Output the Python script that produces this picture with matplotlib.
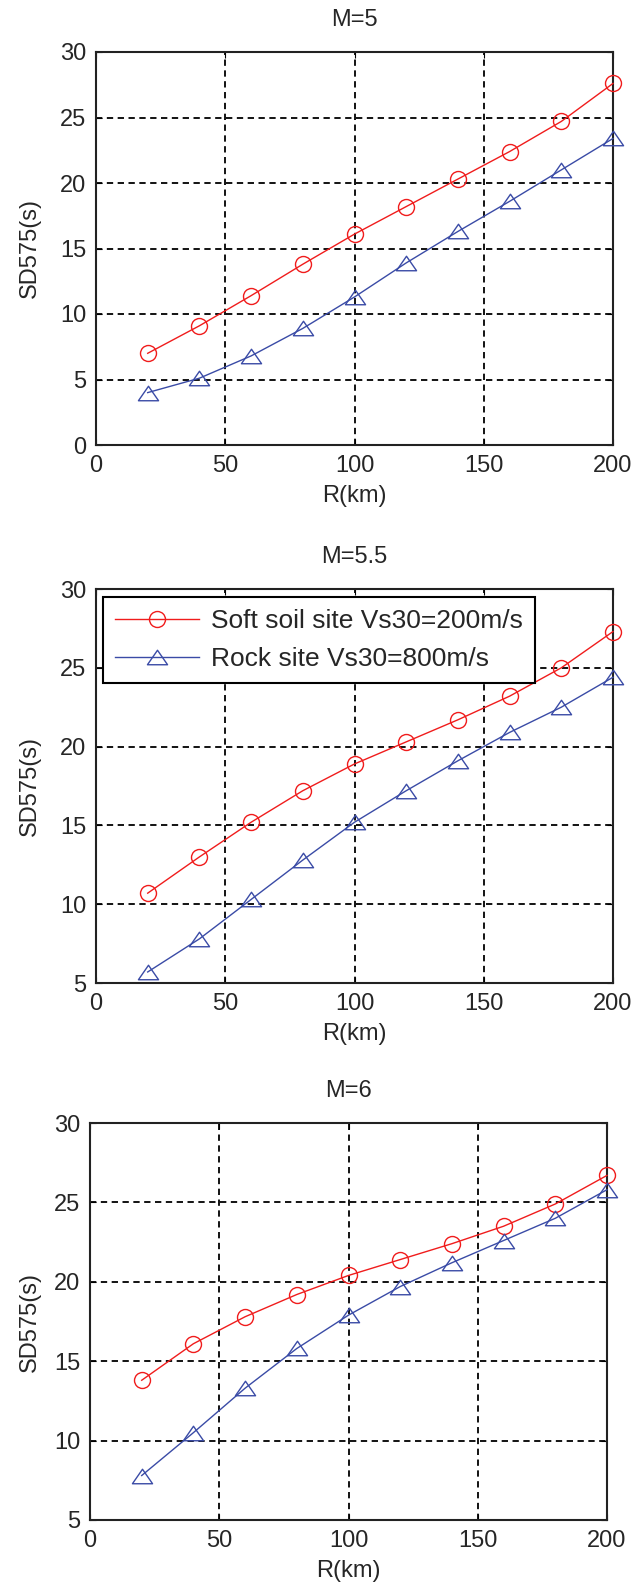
import matplotlib
matplotlib.use("Agg")
import matplotlib.pyplot as plt
from matplotlib.path import Path

# Distance (km) and significant duration SD575 (s) for each magnitude
distance_km = [20, 40, 60, 80, 100, 120, 140, 160, 180, 200]

soft_m5 = [7.0, 9.1, 11.4, 13.8, 16.1, 18.2, 20.3, 22.4, 24.7, 27.6]
rock_m5 = [4.0, 5.1, 6.8, 8.9, 11.3, 13.9, 16.3, 18.6, 21.0, 23.4]

soft_m55 = [10.7, 13.0, 15.2, 17.2, 18.9, 20.3, 21.7, 23.2, 25.0, 27.3]
rock_m55 = [5.7, 7.8, 10.3, 12.8, 15.2, 17.2, 19.1, 20.9, 22.5, 24.4]

soft_m6 = [13.8, 16.1, 17.8, 19.2, 20.4, 21.4, 22.4, 23.5, 24.9, 26.7]
rock_m6 = [7.8, 10.5, 13.3, 15.8, 17.9, 19.7, 21.2, 22.6, 24.0, 25.8]

titles = ["M=5", "M=5.5", "M=6"]
y_limits = [(0, 30), (5, 30), (5, 30)]
x_ticks = [0, 50, 100, 150, 200]
soft_label = "Soft soil site Vs30=200m/s"
rock_label = "Rock site Vs30=800m/s"

plt.rcParams["font.family"] = ["Liberation Sans", "DejaVu Sans"]
TEXT = "#262626"
RED = "#f01c1c"
BLUE = "#3a4ba6"
FS = 17
LEG_FS = 19

# Wide, flat triangle like MATLAB's '^'
tri = Path([(0, 0.72), (-1, -0.72), (1, -0.72), (0, 0.72)],
           [Path.MOVETO, Path.LINETO, Path.LINETO, Path.CLOSEPOLY])

W, H = 636, 1593
fig = plt.figure(figsize=(W / 100, H / 100), dpi=100)

# axes boxes in pixels: left, right, top, bottom
boxes = [(96, 613, 52, 445), (96, 613, 589, 983), (90, 607, 1123, 1520)]
series = [(soft_m5, rock_m5), (soft_m55, rock_m55), (soft_m6, rock_m6)]

for i, ((l, r, t, b), (soft, rock)) in enumerate(zip(boxes, series)):
    ax = fig.add_axes([l / W, 1 - b / H, (r - l) / W, (b - t) / H])
    ax.plot(distance_km, soft, color=RED, lw=1.0, marker="o", ms=11.5,
            mfc="none", mec=RED, mew=1.0, clip_on=False, zorder=3,
            label=soft_label)
    ax.plot(distance_km, rock, color=BLUE, lw=1.0, marker=tri, ms=14.5,
            mfc="none", mec=BLUE, mew=1.0, clip_on=False, zorder=3,
            label=rock_label)
    ax.set_xlim(0, 200)
    ax.set_ylim(*y_limits[i])
    ax.set_xticks(x_ticks)
    ax.set_yticks(range(y_limits[i][0], 31, 5))
    ax.grid(True, color="black", linestyle=(0, (3.5, 2.5)), linewidth=1.3)
    ax.set_axisbelow(True)
    ax.tick_params(direction="in", length=4, width=0.8, labelsize=FS,
                   labelcolor=TEXT, pad=7, top=True, right=True)
    for s in ax.spines.values():
        s.set_linewidth(1.5)
        s.set_color("#222222")
    h = b - t
    ax.set_title(titles[i], fontsize=FS, color=TEXT, pad=19)
    ax.set_xlabel("R(km)", fontsize=FS, color=TEXT)
    ax.set_ylabel("SD575(s)", fontsize=FS, color=TEXT)
    ax.xaxis.set_label_coords(0.5, -40 / h)
    ax.yaxis.set_label_coords(-(l - 41) / (r - l), 0.5)
    if i == 1:
        leg = ax.legend(loc="upper left",
                        bbox_to_anchor=(7 / (r - l), 1 - 8 / h),
                        borderaxespad=0, fontsize=LEG_FS, numpoints=1,
                        handlelength=3.2, handletextpad=0.45,
                        borderpad=0.45, labelspacing=0.55,
                        fancybox=False, framealpha=1, edgecolor="black")
        leg.get_frame().set_linewidth(1.5)
        for txt in leg.get_texts():
            txt.set_color(TEXT)

fig.savefig("out.png", dpi=100)
